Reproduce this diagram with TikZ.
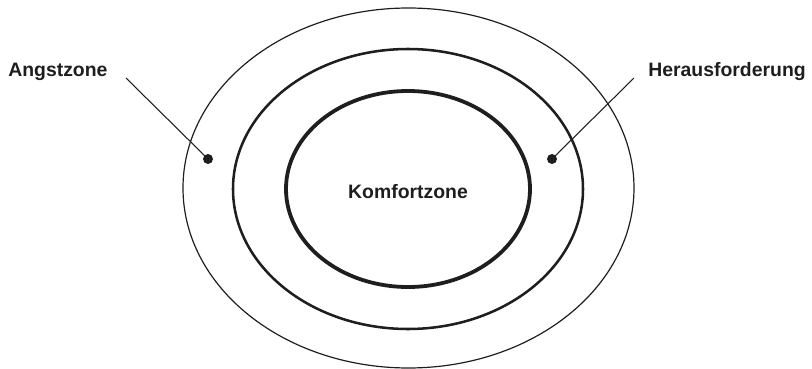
\documentclass[tikz,border=0pt]{standalone}
\usepackage{fontspec}
\setmainfont{Liberation Sans}
\usepackage{xcolor}
\usepackage{tikz}

\definecolor{ink}{HTML}{1E1E1E}
\tikzset{
  zone/.style={draw=ink},
  lbl/.style={font=\bfseries\fontsize{13.8}{16}\selectfont, text=ink, inner sep=0pt},
  dotmark/.style={circle, fill=ink, inner sep=0pt, minimum size=0.25cm},
  leader/.style={draw=ink, line width=0.75pt}
}

\begin{document}
\begin{tikzpicture}[x=0.025cm, y=-0.025cm]
    \useasboundingbox (0,0) rectangle (812,369);
    \coordinate (M) at (408.5,188);
    % three zones
    \draw[zone, line width=0.85pt] (M) ellipse [x radius=225.5, y radius=180];
    \draw[zone, line width=1.8pt] (408,189) ellipse [x radius=175, y radius=140];
    \draw[zone, line width=2.7pt] (408,189) ellipse [x radius=122, y radius=98];
    \node[lbl] (komfort) at (408,192) {Komfortzone};
    % labels outside
    \node[lbl, anchor=west] (angst) at (8,72) {Angstzone};
    \node[lbl, anchor=east] (heraus) at (806,72) {Herausforderung};
    \coordinate (angstend) at (126,78);
    \coordinate (herausend) at (634,78);
    \node[dotmark] (angstdot) at (208,159) {};
    \node[dotmark] (herausdot) at (552,159) {};
    \draw[leader] (angstend) -- (angstdot.center);
    \draw[leader] (herausend) -- (herausdot.center);
\end{tikzpicture}
\end{document}
